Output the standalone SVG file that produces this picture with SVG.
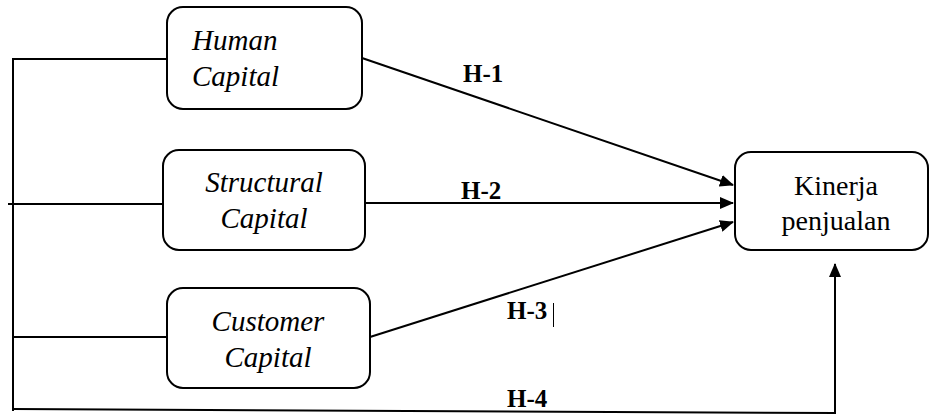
<svg xmlns="http://www.w3.org/2000/svg" width="930" height="416" viewBox="0 0 930 416">
<style>
.box{fill:#fff;stroke:#000;stroke-width:2}
.ln{fill:none;stroke:#000;stroke-width:2}
text{font-family:'Liberation Serif','Times New Roman','DejaVu Serif',serif;fill:#000}
.it{font-style:italic;font-size:29px}
.rg{font-size:28px}
.lb{font-weight:bold;font-size:25px}
</style>
<defs>
<marker id="ah" viewBox="0 0 14 12" refX="13" refY="6" markerWidth="14" markerHeight="12" markerUnits="userSpaceOnUse" orient="auto">
<path d="M0,0 L14,6 L0,12 Z" fill="#000"/>
</marker>
</defs>
<g id="connectors">
<polyline class="ln" points="167,59 13,59 13,411"/>
<line class="ln" x1="8" y1="204" x2="163" y2="204"/>
<line class="ln" x1="13" y1="337" x2="172" y2="337"/>
<line class="ln" x1="13" y1="409" x2="836" y2="413"/>
<line class="ln" x1="835" y1="413" x2="835" y2="264" marker-end="url(#ah)"/>
<line class="ln" x1="362" y1="58" x2="733" y2="185" marker-end="url(#ah)"/>
<line class="ln" x1="365" y1="203" x2="733" y2="203" marker-end="url(#ah)"/>
<line class="ln" x1="370" y1="337" x2="733" y2="222" marker-end="url(#ah)"/>
<text class="lb" x="463" y="82">H-1</text>
<text class="lb" x="461" y="199">H-2</text>
<text class="lb" x="507" y="319">H-3</text>
<line x1="553.5" y1="303" x2="553.5" y2="327" stroke="#000" stroke-width="1"/>
<text class="lb" x="507" y="407">H-4</text>
</g>
<g id="human-capital">
<rect class="box" x="167" y="7" width="195" height="102" rx="16"/>
<text class="it" x="192" y="50">Human</text>
<text class="it" x="192" y="86">Capital</text>
</g>
<g id="structural-capital">
<rect class="box" x="163" y="150" width="202" height="100" rx="16"/>
<text class="it" x="264" y="192" text-anchor="middle">Structural</text>
<text class="it" x="264" y="228" text-anchor="middle">Capital</text>
</g>
<g id="customer-capital">
<rect class="box" x="167" y="288" width="203" height="100" rx="16"/>
<text class="it" x="268" y="331" text-anchor="middle">Customer</text>
<text class="it" x="268" y="367" text-anchor="middle">Capital</text>
</g>
<g id="kinerja-penjualan">
<rect class="box" x="735" y="152" width="193" height="98" rx="16"/>
<text class="rg" x="836" y="195" text-anchor="middle">Kinerja</text>
<text class="rg" x="836" y="230" text-anchor="middle">penjualan</text>
</g>
</svg>
